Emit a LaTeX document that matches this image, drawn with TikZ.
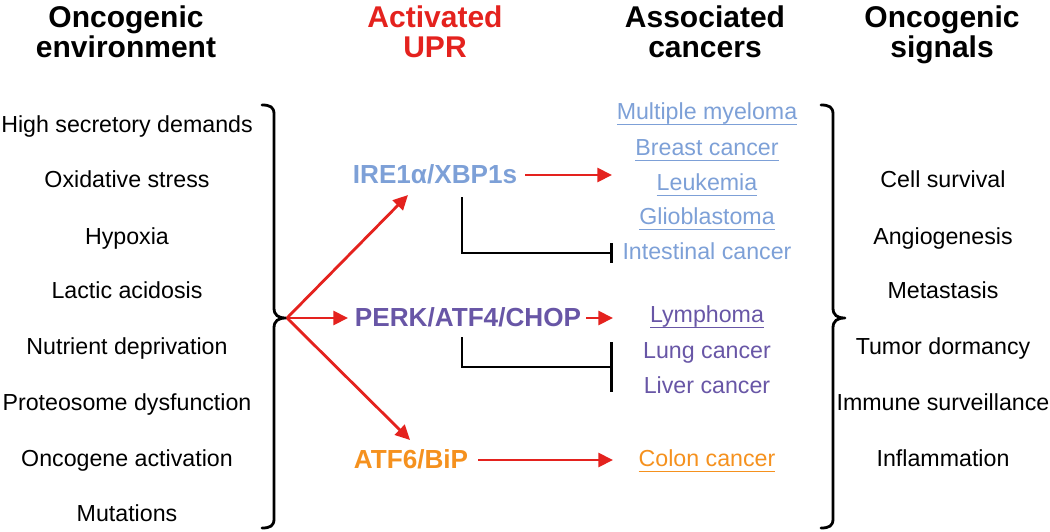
\documentclass[tikz,border=0pt]{standalone}
\usepackage{fontspec}
\setmainfont{Liberation Sans}
\usetikzlibrary{arrows.meta}
\definecolor{upred}{RGB}{228,34,30}
\definecolor{ireblue}{RGB}{125,160,215}
\definecolor{perkpurple}{RGB}{104,86,166}
\definecolor{atforange}{RGB}{245,145,30}
\newcommand\ulx[1]{\setbox0\hbox{#1}\rlap{\rule[-0.27em]{\wd0}{0.065em}}\box0}
\tikzset{
  head/.style={font=\bfseries\fontsize{22.5}{22.5}\selectfont, align=center, anchor=base, inner sep=0pt},
  item/.style={font=\fontsize{17.4}{20}\selectfont, anchor=base, inner sep=0pt},
  upr/.style={font=\bfseries\fontsize{19.6}{22}\selectfont, anchor=base, inner sep=0pt},
  redarrow/.style={draw=upred, line width=2.1pt, -{Triangle[length=11pt,width=10.5pt]}},
  inhib/.style={draw=black, line width=2.1pt, line cap=butt, -{Bar[width=15pt,line width=2.1pt]}},
  brace/.style={draw=black, line width=2.1pt, line cap=round, line join=round}
}
\begin{document}
\begin{tikzpicture}[x=0.75pt,y=-0.75pt]
\useasboundingbox (0,0) rectangle (1050,532);
% headers
\node[head] (h1) at (126,57) {Oncogenic\\environment};
\node[head, text=upred] (h2) at (435,57) {Activated\\UPR};
\node[head] (h3) at (705,57) {Associated\\cancers};
\node[head] (h4) at (942,57) {Oncogenic\\signals};
% left list
\node[item] (e1) at (127,132) {High secretory demands};
\node[item] (e2) at (127,187) {Oxidative stress};
\node[item] (e3) at (127,244) {Hypoxia};
\node[item] (e4) at (127,298) {Lactic acidosis};
\node[item] (e5) at (127,354) {Nutrient deprivation};
\node[item] (e6) at (127,410) {Proteosome dysfunction};
\node[item] (e7) at (127,466) {Oncogene activation};
\node[item] (e8) at (127,521) {Mutations};
% right list
\node[item] (s1) at (943,187) {Cell survival};
\node[item] (s2) at (943,244) {Angiogenesis};
\node[item] (s3) at (943,298) {Metastasis};
\node[item] (s4) at (943,354) {Tumor dormancy};
\node[item] (s5) at (943,410) {Immune surveillance};
\node[item] (s6) at (943,466) {Inflammation};
% braces
\draw[brace] (262,105) .. controls (270,105) and (274,107) .. (274,114) -- (274,308)
  .. controls (274,315) and (278,318) .. (286,318)
  .. controls (278,318) and (274,321) .. (274,328) -- (274,519)
  .. controls (274,526) and (270,528) .. (262,528);
\draw[brace] (821,105) .. controls (829,105) and (833,107) .. (833,114) -- (833,308)
  .. controls (833,315) and (837,318) .. (845,318)
  .. controls (837,318) and (833,321) .. (833,328) -- (833,519)
  .. controls (833,526) and (829,528) .. (821,528);
\coordinate (tip) at (287,318);
% UPR branches
\node[upr, text=ireblue] (ire) at (435,183) {IRE1α/XBP1s};
\node[upr, text=perkpurple] (perk) at (468,326) {PERK/ATF4/CHOP};
\node[upr, text=atforange] (atf) at (411,468) {ATF6/BiP};
% cancers
\node[item, text=ireblue] (c1) at (707,119) {\ulx{Multiple myeloma}};
\node[item, text=ireblue] (c2) at (707,155) {\ulx{Breast cancer}};
\node[item, text=ireblue] (c3) at (707,190) {\ulx{Leukemia}};
\node[item, text=ireblue] (c4) at (707,224) {\ulx{Glioblastoma}};
\node[item, text=ireblue] (c5) at (707,259) {Intestinal cancer};
\node[item, text=perkpurple] (c6) at (707,322) {\ulx{Lymphoma}};
\node[item, text=perkpurple] (c7) at (707,358) {Lung cancer};
\node[item, text=perkpurple] (c8) at (707,393) {Liver cancer};
\node[item, text=atforange] (c9) at (707,466) {\ulx{Colon cancer}};
% arrows from tip
\coordinate (ireIn) at (408,195);
\coordinate (perkIn) at (348,318);
\coordinate (atfIn) at (410,440);
\draw[redarrow] (tip) -- (ireIn);
\draw[redarrow] (tip) -- (perkIn);
\draw[redarrow] (tip) -- (atfIn);
% activations
\coordinate (ireOut) at (612,175);
\coordinate (perkOut) at (613,318);
\coordinate (atfOut) at (613,460);
\draw[redarrow] (525,175) -- (ireOut);
\draw[redarrow] (586,318) -- (perkOut);
\draw[redarrow] (478,460) -- (atfOut);
% inhibitions
\coordinate (ireInh) at (462,197);
\coordinate (perkInh) at (462,337);
\coordinate (c5bar) at (613,253);
\coordinate (c78bar) at (613,367);
\draw[inhib] (ireInh) |- (c5bar);
\draw[inhib, -{Bar[width=37pt,line width=2.1pt]}] (perkInh) |- (c78bar);
\end{tikzpicture}
\end{document}
